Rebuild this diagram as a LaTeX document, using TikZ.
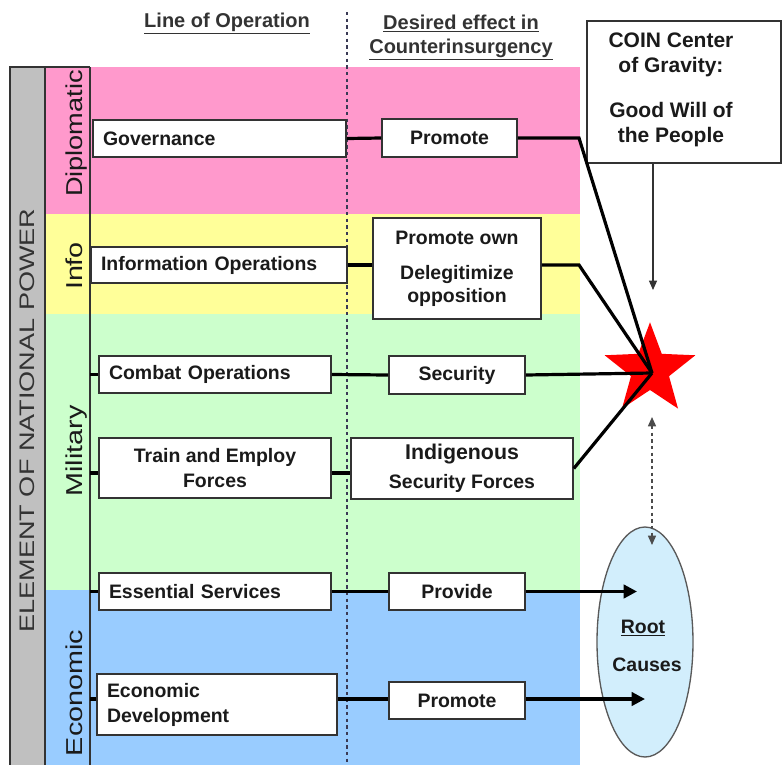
\documentclass[tikz,border=0pt]{standalone}
\usepackage{fontspec}
\setmainfont{Liberation Sans}
\usepackage{graphicx}
\usetikzlibrary{arrows.meta,shapes.geometric}
\definecolor{pinkband}{HTML}{FF99CC}
\definecolor{yellowband}{HTML}{FFFF99}
\definecolor{greenband}{HTML}{CCFFCC}
\definecolor{blueband}{HTML}{99CCFF}
\definecolor{grayband}{HTML}{C0C0C0}
\definecolor{ellfill}{HTML}{D2EEFC}
\definecolor{boxline}{HTML}{333333}
\definecolor{dashline}{HTML}{3A3A55}
\definecolor{txt}{HTML}{1A1A1A}
\definecolor{hdrtxt}{HTML}{333333}
\tikzset{
  opbox/.style={draw=boxline, fill=white, line width=1.2pt, text=txt,
    font=\bfseries\fontsize{14.6pt}{18.75pt}\selectfont, inner ysep=0pt, inner xsep=7.5pt},
  lbox/.style={opbox, align=left},
  cbox/.style={opbox, align=center},
  conn/.style={line width=2.4pt, black},
  arr/.style={conn, -{Triangle[length=10pt,width=10pt]}},
  hdr/.style={font=\bfseries\fontsize{15pt}{18pt}\selectfont, text=hdrtxt, inner sep=0pt, anchor=base},
  catlab/.style={font=\fontsize{17.25pt}{20pt}\selectfont, text=txt, rotate=90, anchor=base, inner sep=0pt},
  frame/.style={draw=boxline, line width=1pt},
}
\begin{document}
\begin{tikzpicture}[x=0.75pt,y=-0.75pt]
\useasboundingbox (0,0) rectangle (783,765);
% bands
\fill[pinkband] (45,67) rectangle (580,214);
\fill[yellowband] (45,214) rectangle (580,314);
\fill[greenband] (45,314) rectangle (580,590);
\fill[blueband] (45,590) rectangle (580,765);
\fill[grayband] (10,67) rectangle (45,765);
\draw[frame] (10,765) -- (10,67) -- (90,67);
\draw[frame] (45,67) -- (45,765);
\draw[frame, line width=1.3pt] (90,67) -- (90,765);
% dashed divider
\draw[dashline, line width=1.2pt, dash pattern=on 2.5pt off 2.5pt] (347,12) -- (347,765);
% headers
\node[hdr] (hloo) at (227,27) {\underline{Line of Operation}};
\node[hdr] (hdes) at (461,29) {\underline{Desired effect in}};
\node[hdr] (hcou) at (461,53) {\underline{Counterinsurgency}};
% side labels
\node[font=\fontsize{15.75pt}{18pt}\selectfont, text=hdrtxt, rotate=90, anchor=base, inner sep=0pt] (enp) at (35,420.5) {\scalebox{1.29}[1]{ELEMENT OF NATIONAL POWER}};
\node[catlab] (ldip) at (82,133.5) {\scalebox{1.18}[1]{Diplomatic}};
\node[catlab] (linf) at (82,266) {\scalebox{1.25}[1]{Info}};
\node[catlab] (lmil) at (82,451) {\scalebox{1.25}[1]{Military}};
\node[catlab] (leco) at (82,693) {\scalebox{1.25}[1]{Economic}};
% COIN box
\node[draw=boxline, line width=1.2pt, fill=white, minimum width=145.5pt, minimum height=106.5pt, inner sep=0pt] (coinbox) at (684,92) {};
\node[align=center, text=txt, font=\bfseries\fontsize{15.75pt}{18.75pt}\selectfont, inner sep=0pt] (cointext) at (671,89.5) {COIN Center\\of Gravity:\\[15pt]Good Will of\\the People};
% star
\fill[red] plot[samples at={0,...,9}] ({650+(mod(\x,2)==0 ? 47.7 : 20)*cos(-90+36*\x)}, {370+(mod(\x,2)==0 ? 47.7 : 20)*sin(-90+36*\x)}) -- cycle;
\coordinate (cog) at (652,373);
% root causes ellipse
\node[ellipse, draw=gray!70!black, fill=ellfill, line width=1pt, minimum width=72pt, minimum height=172.5pt, inner sep=0pt] (root) at (645,642) {};
\node[text=txt, font=\bfseries\fontsize{14.6pt}{18pt}\selectfont, inner sep=0pt] (roott) at (643,628) {\underline{Root}};
\node[text=txt, font=\bfseries\fontsize{14.6pt}{18pt}\selectfont, inner sep=0pt] (causest) at (647,665) {Causes};
% boxes
\node[lbox, text width=174.75pt, minimum height=27.75pt] (gov) at (219.5,138.5) {Governance};
\node[cbox, minimum width=101.25pt, minimum height=28.5pt] (prom1) at (449.5,138) {Promote};
\node[lbox, text width=177pt, minimum height=27pt] (info) at (219,265) {Information Operations};
\node[cbox, minimum width=126pt, minimum height=75.75pt, font=\bfseries\fontsize{14.6pt}{17.25pt}\selectfont] (prom2) at (457,268.5) {Promote own\\[9pt]Delegitimize\\opposition};
\node[lbox, text width=159pt, minimum height=27.75pt] (combat) at (215,374.5) {Combat Operations};
\node[cbox, minimum width=102pt, minimum height=28.5pt] (sec) at (457,375) {Security};
\node[cbox, minimum width=174pt, minimum height=45pt] (train) at (215,468) {Train and Employ\\Forces};
\node[cbox, minimum width=166.5pt, minimum height=45.75pt, font=\bfseries\fontsize{14.6pt}{21.75pt}\selectfont] (indig) at (462,468.5) {{\fontsize{16pt}{21.75pt}\selectfont Indigenous}\\Security Forces};
\node[lbox, text width=159pt, minimum height=27.75pt] (ess) at (215,591.5) {Essential Services};
\node[cbox, minimum width=102pt, minimum height=27.75pt] (prov) at (457,591.5) {Provide};
\node[lbox, text width=165pt, minimum height=45.75pt] (econ) at (217,704.5) {Economic\\Development};
\node[cbox, minimum width=102pt, minimum height=27.75pt] (prom3) at (457,700.5) {Promote};
% ticks
\coordinate (t1) at (90,374.5);
\coordinate (t2) at (90,473);
\coordinate (t3) at (90,591.5);
\coordinate (t4) at (90,699);
\draw[conn] (t1) -- (t1 -| combat.west);
\draw[conn] (t2) -- (t2 -| train.west);
\draw[conn] (t3) -- (t3 -| ess.west);
\draw[conn] (t4) -- (t4 -| econ.west);
% connectors
\coordinate (b1) at (579,138);
\coordinate (b2) at (579,265);
\draw[conn] (gov.east) -- (prom1.west);
\draw[conn] (prom1.east) -- (b1) -- (cog);
\draw[conn] (info.east) -- (info.east -| prom2.west);
\draw[conn] (info.east -| prom2.east) -- (b2) -- (cog);
\draw[conn] (combat.east) -- (sec.west);
\draw[conn] (sec.east) -- (cog);
\draw[conn] (t2 -| train.east) -- (t2 -| indig.west);
\draw[conn] (indig.east) -- (cog);
\draw[conn] (ess.east) -- (prov.west);
\draw[conn] (t4 -| econ.east) -- (t4 -| prom3.west);
\coordinate (a1) at (637,591.5);
\coordinate (a2) at (645,699);
\draw[arr] (prov.east) -- (a1);
\draw[arr] (t4 -| prom3.east) -- (a2);
% COIN arrow
\coordinate (cgtip) at (653,290);
\draw[boxline, line width=0.9pt, -{Triangle[length=7pt,width=6pt]}] (coinbox.south -| cgtip) -- (cgtip);
% dotted double arrow
\coordinate (dtop) at (652,417);
\coordinate (dbot) at (652,545);
\draw[gray!60!black, line width=1.1pt, dash pattern=on 2.5pt off 2.5pt, {Triangle[length=7pt,width=6pt]}-{Triangle[length=7pt,width=6pt]}] (dtop) -- (dbot);
\end{tikzpicture}
\end{document}
